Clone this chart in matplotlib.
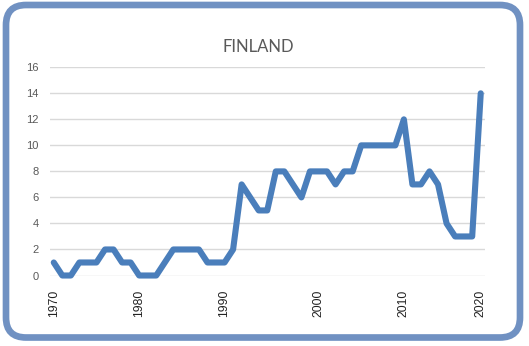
#!/usr/bin/env python3
# Finland yearly count, line chart in an Excel-like rounded frame

import matplotlib
matplotlib.use("Agg")
import matplotlib.pyplot as plt
from matplotlib.patches import FancyBboxPatch

#------------------------------------------------------------------------------
# Data
#------------------------------------------------------------------------------

title = "FINLAND"

values = [
    1, 0, 0, 1, 1, 1, 2, 2, 1, 1,      # 1970s
    0, 0, 0, 1, 2, 2, 2, 2, 1, 1,      # 1980s
    1, 2, 7, 6, 5, 5, 8, 8, 7, 6,      # 1990s
    8, 8, 8, 7, 8, 8, 10, 10, 10, 10,  # 2000s
    10, 12, 7, 7, 8, 7, 4, 3, 3, 3,    # 2010s
    14,
]

xtick_labels = ["1970", "1980", "1990", "2000", "2010", "2020"]
yticks = [0, 2, 4, 6, 8, 10, 12, 14, 16]

#------------------------------------------------------------------------------
# Plot
#------------------------------------------------------------------------------

W, H = 529, 346
fig = plt.figure(figsize=(W / 100, H / 100), dpi=100)
fig.patch.set_facecolor("white")

ax = fig.add_axes([49.5 / W, 1 - 275.5 / H, (485 - 49.5) / W, (275.5 - 67.3) / H])

x = list(range(len(values)))
ax.plot(x, values, color="#4a7ebb", linewidth=4.4,
        solid_joinstyle="round", solid_capstyle="round", clip_on=False, zorder=3)

ax.set_xlim(-0.5, len(values) - 0.5)
ax.set_ylim(0, 16)

# labels sit on the categories where the reference shows them
ax.set_xticks([0, 10, 20, 31, 41, 50])
ax.set_xticklabels(xtick_labels, rotation=90, fontsize=8.8,
                   family="Liberation Sans", color="#222222")
ax.set_yticks(yticks)
ax.set_yticklabels([str(v) for v in yticks], fontsize=8,
                   family="Liberation Sans", color="#595959")
ax.tick_params(axis="x", length=0, pad=10.5)
ax.tick_params(axis="y", length=0, pad=8)

ax.grid(axis="y", color="#d9d9d9", linewidth=1)
ax.set_axisbelow(True)
for s in ax.spines.values():
    s.set_visible(False)

fig.text(258 / W, 1 - 46.5 / H, title, ha="center", va="center",
         fontsize=12, family="Lato", color="#595959")

#------------------------------------------------------------------------------
# Rounded frame
#------------------------------------------------------------------------------

frame = FancyBboxPatch((6, 8.5), 514, 332.5,
                       boxstyle="round,pad=0,rounding_size=20",
                       transform=None, fill=False,
                       edgecolor="#7091c2", linewidth=4.8)
fig.patches.append(frame)

fig.savefig("out.png", dpi=100)
